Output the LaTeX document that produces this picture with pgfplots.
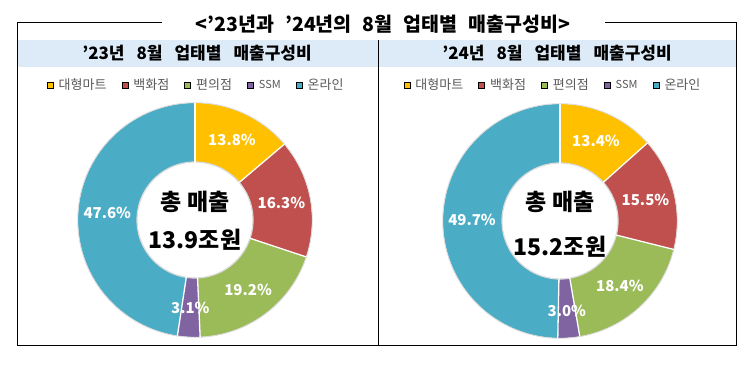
\documentclass[border=0pt]{standalone}
\usepackage{fontspec}
\setmainfont{Noto Sans CJK KR}
\usepackage{pgfplots}
\pgfplotsset{compat=1.18}
\usepgfplotslibrary{polar}
\definecolor{cGold}{RGB}{255,192,0}
\definecolor{cRed}{RGB}{192,80,77}
\definecolor{cGreen}{RGB}{155,187,89}
\definecolor{cPurple}{RGB}{128,100,162}
\definecolor{cAqua}{RGB}{75,172,198}
\definecolor{bandblue}{RGB}{221,235,248}
\definecolor{leggray}{RGB}{89,89,89}
\newcommand\gap[1]{\hspace{#1bp}}
\pgfplotsset{
  donut/.style={
    hide axis, width=234bp, height=234bp, scale only axis,
    ymin=0, ymax=117, clip=false,
    legend style={anchor=center, draw=none, fill=none, legend columns=-1,
      font=\fontsize{13bp}{15bp}\selectfont, text=leggray, inner sep=0pt,
      /tikz/every even column/.append style={column sep=13bp}},
    legend image code/.code={\fill[##1] (0bp,-3bp) rectangle (6bp,3bp); \path (9.5bp,0bp);},
  },
  ring/.style={line width=59bp, samples=80, forget plot},
  sep/.style={draw=white, line width=1.3bp, forget plot},
  lbl/.style={only marks, mark=none, forget plot, nodes near coords, point meta=explicit symbolic,
    nodes near coords style={anchor=center, text=white, font=\bfseries\fontsize{15bp}{17bp}\selectfont}},
}
\begin{document}
\begin{tikzpicture}[x=1bp,y=1bp]
\useasboundingbox (0,0) rectangle (752,365);
\fill[bandblue] (17,298) rectangle (736,325);
\draw[line width=1bp] (162,342) -- (17,342) -- (17,20) -- (736,20) -- (736,342) -- (605,342);
\draw[line width=1bp] (378,325) -- (378,20);
\node[font=\bfseries\fontsize{19.5bp}{21bp}\selectfont] at (383,341) {<’23년과\gap{11}’24년의\gap{11}8월\gap{11}업태별\gap{11}매출구성비>};
\node[font=\bfseries\fontsize{17bp}{19bp}\selectfont] at (197,312) {’23년\gap{12}8월\gap{12}업태별\gap{12}매출구성비};
\node[font=\bfseries\fontsize{17bp}{19bp}\selectfont] at (557,312) {’24년\gap{12}8월\gap{12}업태별\gap{12}매출구성비};

% ---------- left donut ('23)
\begin{polaraxis}[donut, at={(195,145)}, anchor=origin, legend style={at={(0.505,1.077)}}]
\addplot[draw=cGold, ring, domain=40.32:90] {87.5};
\addplot[draw=cRed, ring, domain=-18.36:40.32] {87.5};
\addplot[draw=cGreen, ring, domain=-87.48:-18.36] {87.5};
\addplot[draw=cPurple, ring, domain=-98.64:-87.48] {87.5};
\addplot[draw=cAqua, ring, samples=150, domain=90:261.36] {87.5};
\addplot[draw=black!14, line width=0.9bp, domain=0:360, samples=181, forget plot] {117.3};
\addplot[draw=black!14, line width=1.2bp, domain=0:360, samples=181, forget plot] {58};
\addplot[sep] coordinates {(90,57.5) (90,117)};
\addplot[sep] coordinates {(40.32,57.5) (40.32,117)};
\addplot[sep] coordinates {(-18.36,57.5) (-18.36,117)};
\addplot[sep] coordinates {(-87.48,57.5) (-87.48,117)};
\addplot[sep] coordinates {(-98.64,57.5) (-98.64,117)};
\addplot[lbl] coordinates {(65.16,88) [13.8\%] (10.98,88) [16.3\%] (-52.92,88) [19.2\%] (-93.06,88) [3.1\%] (175.68,88) [47.6\%]};
\addlegendimage{fill=cGold}\addlegendentry{대형마트}
\addlegendimage{fill=cRed}\addlegendentry{백화점}
\addlegendimage{fill=cGreen}\addlegendentry{편의점}
\addlegendimage{fill=cPurple}\addlegendentry{\fontsize{11bp}{13bp}\selectfont SSM}
\addlegendimage{fill=cAqua}\addlegendentry{온라인}
\end{polaraxis}
\node[font=\bfseries\fontsize{23bp}{25bp}\selectfont] at (195,163) {총 매출};
\node[font=\bfseries\fontsize{23bp}{25bp}\selectfont] at (195,125) {13.9조원};

% ---------- right donut ('24)
\begin{polaraxis}[donut, at={(560,144)}, anchor=origin, legend style={at={(0.47,1.08)}}]
\addplot[draw=cGold, ring, domain=41.76:90] {87.5};
\addplot[draw=cRed, ring, domain=-14.04:41.76] {87.5};
\addplot[draw=cGreen, ring, domain=-80.28:-14.04] {87.5};
\addplot[draw=cPurple, ring, domain=-91.08:-80.28] {87.5};
\addplot[draw=cAqua, ring, samples=150, domain=90:268.92] {87.5};
\addplot[draw=black!14, line width=0.9bp, domain=0:360, samples=181, forget plot] {117.3};
\addplot[draw=black!14, line width=1.2bp, domain=0:360, samples=181, forget plot] {58};
\addplot[sep] coordinates {(90,57.5) (90,117)};
\addplot[sep] coordinates {(41.76,57.5) (41.76,117)};
\addplot[sep] coordinates {(-14.04,57.5) (-14.04,117)};
\addplot[sep] coordinates {(-80.28,57.5) (-80.28,117)};
\addplot[sep] coordinates {(-91.08,57.5) (-91.08,117)};
\addplot[lbl] coordinates {(65.88,88) [13.4\%] (13.86,88) [15.5\%] (-47.16,88) [18.4\%] (-85.68,90) [3.0\%] (179.46,88) [49.7\%]};
\addlegendimage{fill=cGold}\addlegendentry{대형마트}
\addlegendimage{fill=cRed}\addlegendentry{백화점}
\addlegendimage{fill=cGreen}\addlegendentry{편의점}
\addlegendimage{fill=cPurple}\addlegendentry{\fontsize{11bp}{13bp}\selectfont SSM}
\addlegendimage{fill=cAqua}\addlegendentry{온라인}
\end{polaraxis}
\node[font=\bfseries\fontsize{23bp}{25bp}\selectfont] at (560,163) {총 매출};
\node[font=\bfseries\fontsize{23bp}{25bp}\selectfont] at (560,118) {15.2조원};
\end{tikzpicture}
\end{document}
